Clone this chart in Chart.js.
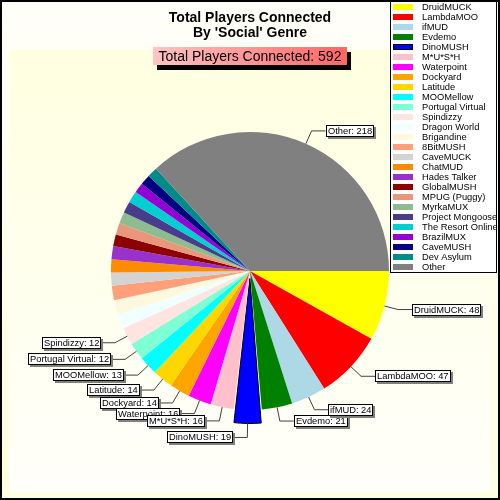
<!DOCTYPE html>
<html>
<head>
<meta charset="utf-8">
<script src="https://cdn.jsdelivr.net/npm/chart.js@4/dist/chart.umd.min.js"></script>
<style>
html,body{margin:0;padding:0;background:#fff;}
#wrap{width:500px;height:500px;position:relative;}
canvas{display:block;}
</style>
</head>
<body>
<div id="wrap"><canvas id="c" width="500" height="500"></canvas></div>
<script>
// ---- data ----
const categories = ["DruidMUCK","LambdaMOO","ifMUD","Evdemo","DinoMUSH","M*U*S*H","Waterpoint","Dockyard","Latitude","MOOMellow","Portugal Virtual","Spindizzy","Dragon World","Brigandine","8BitMUSH","CaveMUCK","ChatMUD","Hades Talker","GlobalMUSH","MPUG (Puggy)","MyrkaMUX","Project Mongoose","The Resort Online","BrazilMUX","CaveMUSH","Dev Asylum","Other"];
const players = [48,47,24,21,19,16,16,14,14,13,12,12,10,10,10,9,9,9,8,8,8,8,8,7,7,7,218];
const sliceColors = ["#FFFF00","#FF0000","#ADD8E6","#008000","#0000FF","#FFC0CB","#FF00FF","#FFA500","#FFD700","#00FFFF","#7FFFD4","#FFE4E1","#F0FFFF","#FFF8DC","#FFA07A","#D3D3D3","#FF8C00","#9932CC","#8B0000","#E9967A","#8FBC8F","#483D8B","#00CED1","#9400D3","#000080","#008B8B","#808080"];
const titleLines = ["Total Players Connected","By 'Social' Genre"];
const totalPrefix = "Total Players Connected: ";
const explodedCategory = "DinoMUSH";
const labelMinimum = 12;

const total = players.reduce((a,b)=>a+b,0);
const explodeIdx = categories.indexOf(explodedCategory);
const FONT = '"Liberation Sans", Arial, sans-serif';

const bgPlugin = {
  id:'bg',
  beforeDraw(chart){
    const ctx = chart.ctx;
    ctx.save();
    let g = ctx.createLinearGradient(0,0,0,500);
    g.addColorStop(0,'#FFFFFA'); g.addColorStop(1,'#FFFFDF');
    ctx.fillStyle = g; ctx.fillRect(0,0,500,500);
    g = ctx.createLinearGradient(0,50,0,492);
    g.addColorStop(0,'#FFFFE0'); g.addColorStop(1,'#FFFFFA');
    ctx.fillStyle = g; ctx.fillRect(9,50,482,442);
    ctx.strokeStyle = '#000'; ctx.lineWidth = 2;
    ctx.strokeRect(1,1,498,498);
    ctx.restore();
  }
};

const labelPlugin = {
  id:'callouts',
  afterDatasetsDraw(chart){
    const ctx = chart.ctx;
    const meta = chart.getDatasetMeta(0);
    const ds = chart.data.datasets[0];
    ctx.save();
    ctx.font = '9.33px ' + FONT;
    for (let i = meta.data.length-1; i >= 0; i--){
      const arc = meta.data[i];
      const v = ds.data[i];
      if (v < labelMinimum) continue;
      const p = arc.getProps(['x','y','startAngle','endAngle','outerRadius'], true);
      const mid = (p.startAngle + p.endAngle)/2;
      const off = (arc.options.offset || 0)/4;
      const circ = p.endAngle - p.startAngle;
      const fix = 1 - Math.sin(Math.min(Math.PI, circ));
      const r0 = p.outerRadius + off + off*fix;
      const c = Math.cos(mid), s = Math.sin(mid);
      const x0 = p.x + c*r0, y0 = p.y + s*r0;
      const x1 = p.x + c*(r0+14), y1 = p.y + s*(r0+14);
      const right = c >= 0;
      const x2 = right ? x1 + 14 : x1 - 14;
      const text = chart.data.labels[i] + ': ' + v;
      const tw = ctx.measureText(text).width;
      const bw = Math.round(tw + 4), bh = 12;
      const bx = Math.round(right ? x2 : x2 - bw), by = Math.round(y1 - bh/2);
      ctx.strokeStyle = '#404040'; ctx.lineWidth = 1;
      ctx.beginPath();
      ctx.moveTo(x0, y0); ctx.lineTo(x1, y1); ctx.lineTo(x2, y1);
      ctx.stroke();
      ctx.fillStyle = '#808080'; ctx.fillRect(bx+2, by+2, bw, bh);
      ctx.fillStyle = '#FFFFFF'; ctx.fillRect(bx, by, bw, bh);
      ctx.strokeStyle = '#000'; ctx.strokeRect(bx+0.5, by+0.5, bw-1, bh-1);
      ctx.fillStyle = '#000'; ctx.textBaseline = 'middle'; ctx.textAlign = 'left';
      ctx.fillText(text, bx+2, by+bh/2+0.5);
    }
    ctx.restore();
  }
};

const decorPlugin = {
  id:'decor',
  afterDraw(chart){
    const ctx = chart.ctx;
    ctx.save();
    // titles
    ctx.fillStyle = '#000'; ctx.textAlign = 'center'; ctx.textBaseline = 'alphabetic';
    ctx.font = 'bold 14px ' + FONT;
    ctx.fillText(titleLines[0], 250, 22);
    ctx.fillText(titleLines[1], 250, 37);
    // total box
    ctx.fillStyle = '#000'; ctx.fillRect(157, 52, 194, 18);
    const g = ctx.createLinearGradient(153,0,347,0);
    g.addColorStop(0,'#FFC4C4'); g.addColorStop(1,'#FF6666');
    ctx.fillStyle = g; ctx.fillRect(153, 47, 194, 18);
    ctx.fillStyle = '#000'; ctx.font = '14px ' + FONT;
    ctx.fillText(totalPrefix + total, 250, 61);
    // legend
    ctx.fillStyle = '#FFFFFF'; ctx.fillRect(390, 1, 107, 272);
    ctx.strokeStyle = '#000'; ctx.lineWidth = 1;
    ctx.strokeRect(390.5, 1.5, 106, 271);
    ctx.font = '9.33px ' + FONT; ctx.textAlign = 'left'; ctx.textBaseline = 'middle';
    const ds = chart.data.datasets[0];
    chart.data.labels.forEach((lab, i) => {
      const y = 7 + i*10;
      ctx.fillStyle = ds.backgroundColor[i];
      ctx.fillRect(393, y-3, 20, 6);
      if (i === explodeIdx){ ctx.strokeStyle='#000'; ctx.strokeRect(393.5, y-2.5, 19, 5); }
      ctx.fillStyle = '#000';
      ctx.fillText(lab, 422, y+0.5);
    });
    ctx.restore();
  }
};

new Chart(document.getElementById('c'), {
  type: 'pie',
  data: {
    labels: categories,
    datasets: [{
      data: players,
      backgroundColor: sliceColors,
      borderColor: sliceColors.map((c,i) => i === explodeIdx ? '#000' : c),
      borderWidth: players.map((v,i) => i === explodeIdx ? 1 : 0),
      hoverBorderWidth: 0,
      offset: players.map((v,i) => i === explodeIdx ? 30 : 0),
      hoverOffset: 0
    }]
  },
  options: {
    responsive: false,
    animation: false,
    devicePixelRatio: 1,
    rotation: 90,
    layout: { padding: { left: 95.5, right: 95.5, top: 116.5, bottom: 74.5 } },
    plugins: { legend: { display: false }, tooltip: { enabled: false }, title: { display: false } },
    events: []
  },
  plugins: [bgPlugin, labelPlugin, decorPlugin]
});
</script>
</body>
</html>
